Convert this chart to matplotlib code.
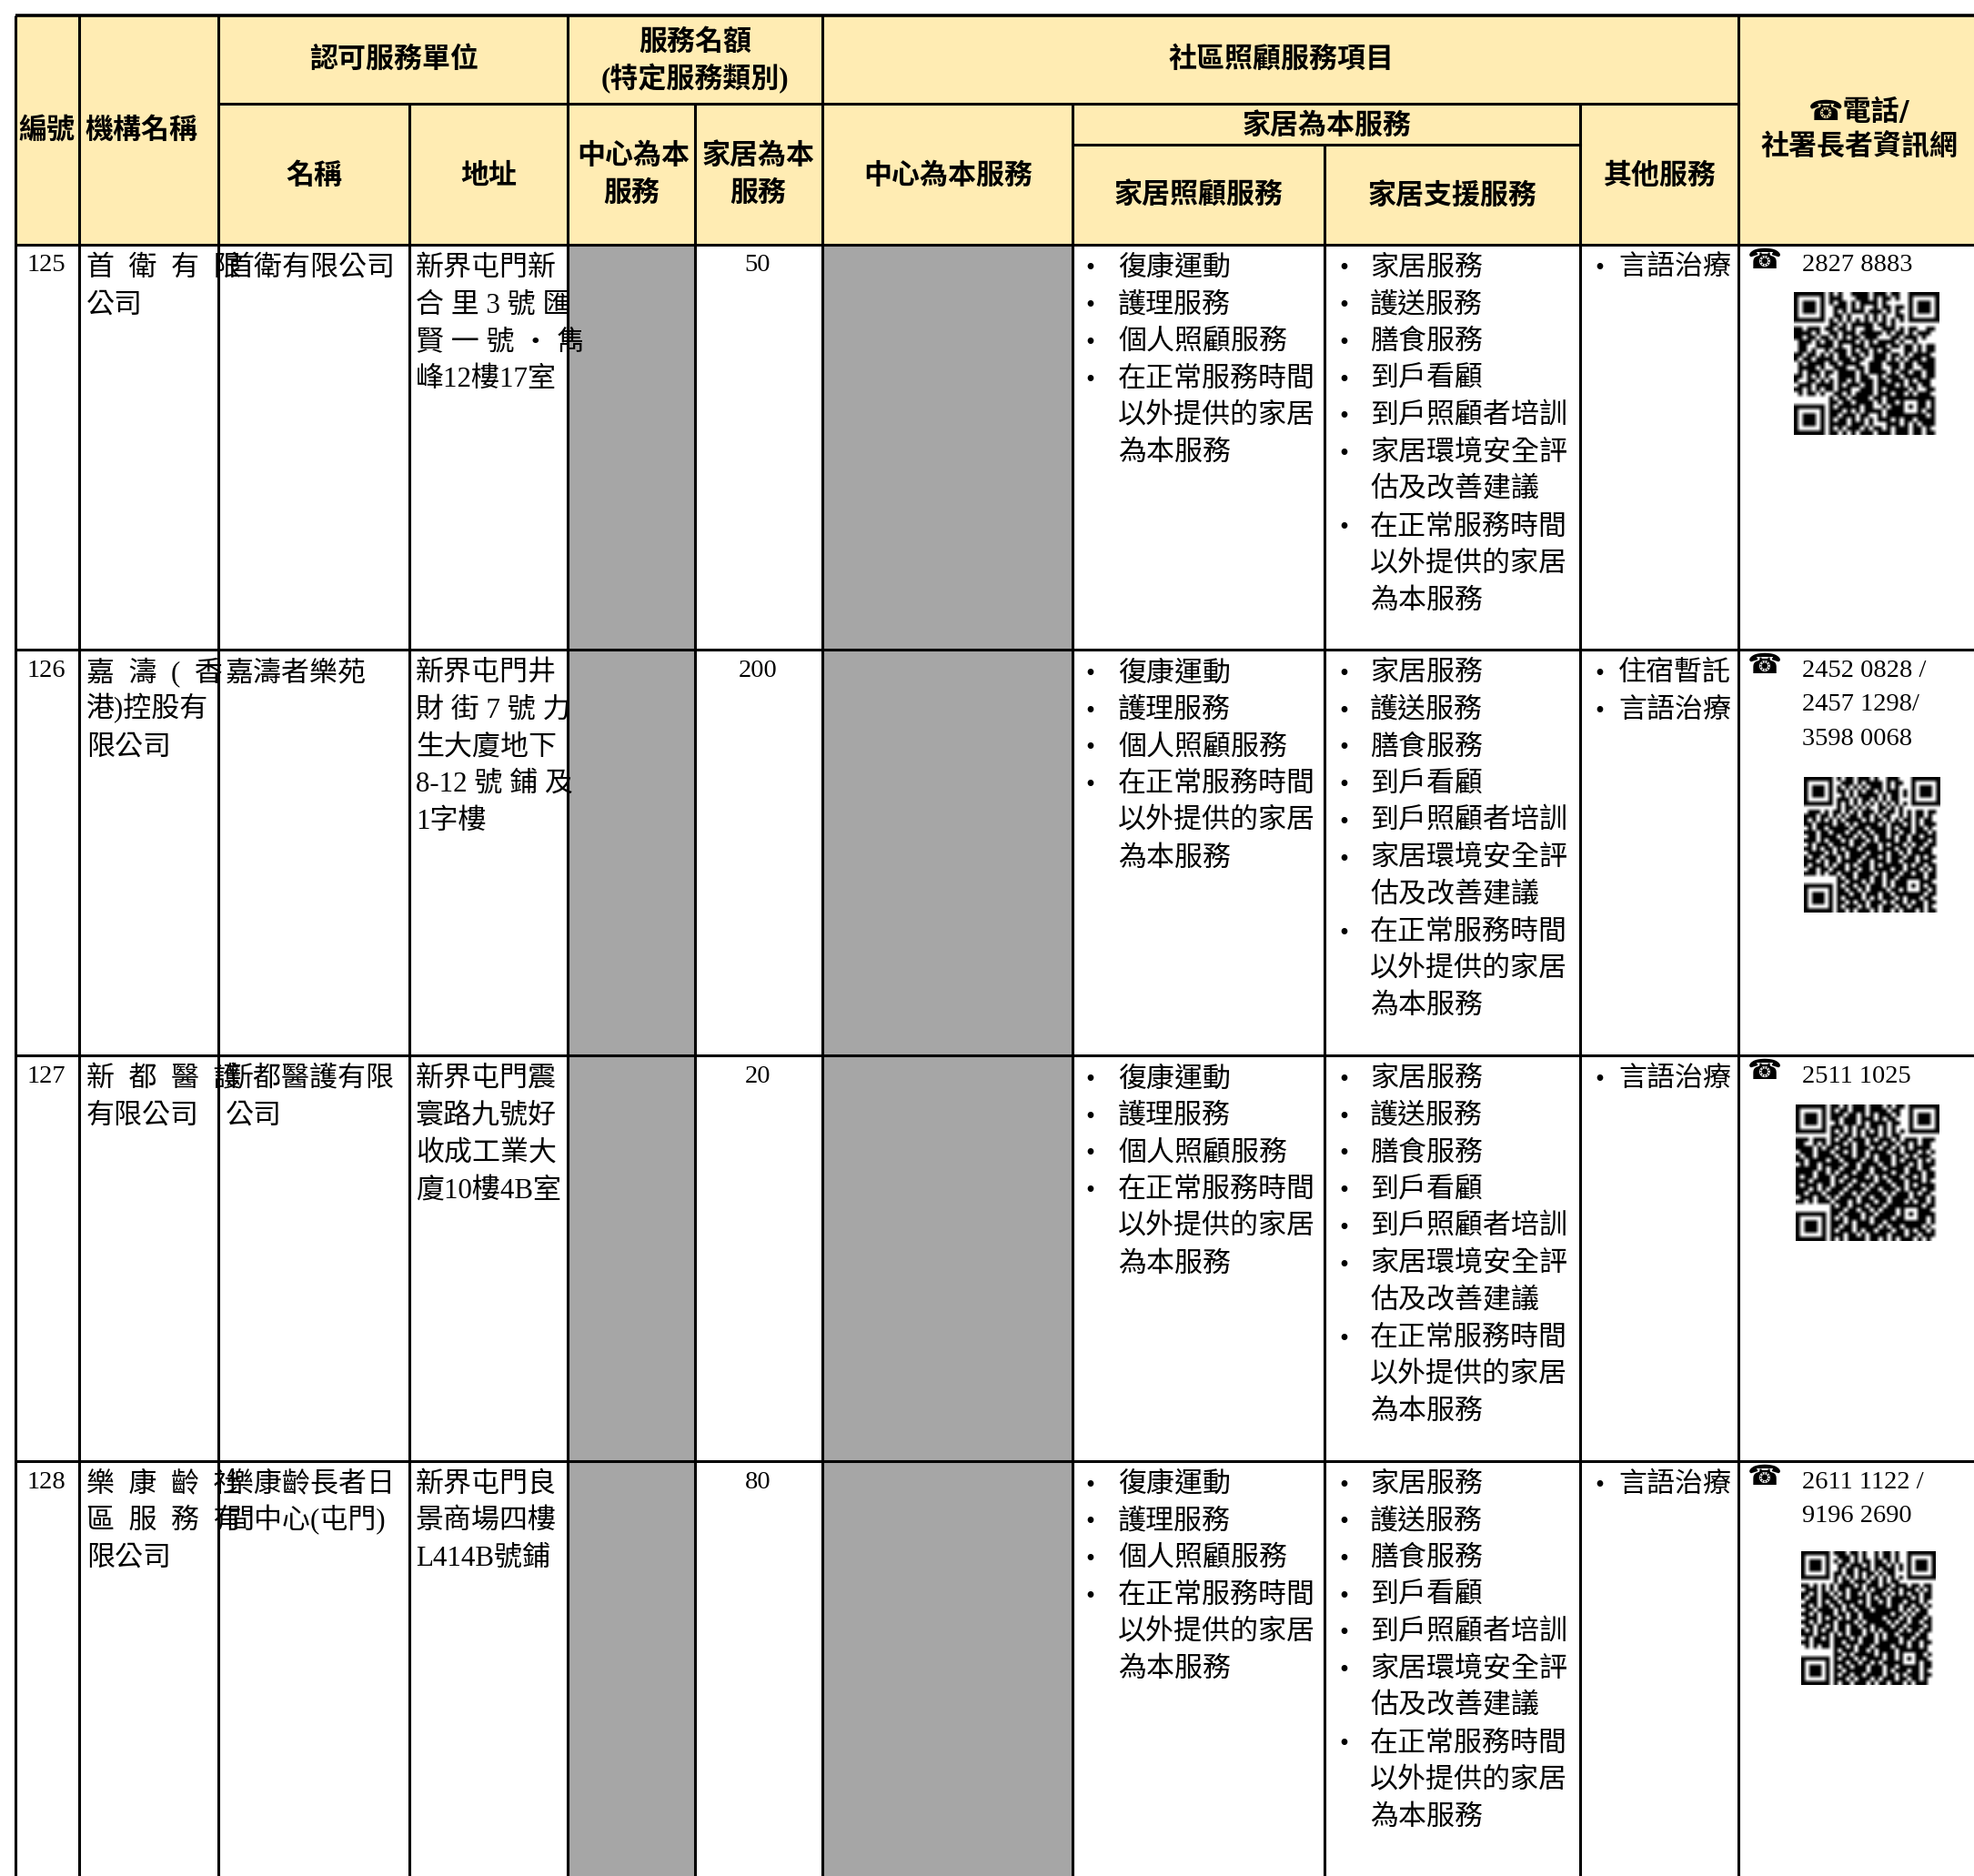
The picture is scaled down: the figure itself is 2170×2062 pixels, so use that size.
import numpy as np
import matplotlib
matplotlib.use('Agg')
import matplotlib.pyplot as plt
from matplotlib.patches import Rectangle

plt.rcParams['font.family'] = ['Liberation Serif', 'Noto Sans CJK TC', 'DejaVu Sans']

# table content
row_ids = ['125', '126', '127', '128']
org_names = [['首  衛  有  限', '公司'],
             ['嘉  濤  (  香', '港)控股有', '限公司'],
             ['新  都  醫  護', '有限公司'],
             ['樂  康  齡  社', '區  服  務  有', '限公司']]
unit_names = [['首衛有限公司'],
              ['嘉濤者樂苑'],
              ['新都醫護有限', '公司'],
              ['樂康齡長者日', '間中心(屯門)']]
addresses = [['新界屯門新', '合 里 3 號 匯', '賢 一 號 ・ 雋', '峰12樓17室'],
             ['新界屯門井', '財 街 7 號 力', '生大廈地下', '8-12 號 鋪 及', '1字樓'],
             ['新界屯門震', '寰路九號好', '收成工業大', '廈10樓4B室'],
             ['新界屯門良', '景商場四樓', 'L414B號鋪']]
home_slots = ['50', '200', '20', '80']
care_items = ['復康運動', '護理服務', '個人照顧服務', '在正常服務時間', None, None]
care_cont = {3: ['以外提供的家居', '為本服務']}
support_items = [('家居服務', []), ('護送服務', []), ('膳食服務', []), ('到戶看顧', []),
                 ('到戶照顧者培訓', []), ('家居環境安全評', ['估及改善建議']),
                 ('在正常服務時間', ['以外提供的家居', '為本服務'])]
other_items = [['言語治療'], ['住宿暫託', '言語治療'], ['言語治療'], ['言語治療']]
phones = [['2827 8883'],
          ['2452 0828 /', '2457 1298/', '3598 0068'],
          ['2511 1025'],
          ['2611 1122 /', '9196 2690']]

# QR modules (finder and alignment squares stamped later)
qr_125 = """
........#.#..####.###.##.........
........###...###.#.##.#.........
........#.##.#.####.#............
.........###.#.#..#.##.##........
.........#.#.###.###.#.#.........
.........##.#...#.#.#..###.......
........#.#.#.#.#.#.#.#.#........
........##.#.#####.##.#..........
##.###.##.##.#..##..###.#.##..##.
####.#..##.###.#####.#.##.#.###..
##.##.##.#.#.##.###...##.###.#...
.###.#.##.####.#.#.####.#..#.....
.##..####.#..###.####.##.##.#.##.
.##.#..#.###.#.##.#.##...##.#.##.
##.##.#.#.##.##.#.###.##.#.####..
#.##.####.###.##..###.#.#.###.##.
.#.####.##.####..###.###.##.####.
.####.#..###..##.###..##.##..###.
.#.###.##.####.#.####.#.##.##.##.
##.#.#.#..####.##..#.###.####.##.
#..##.#.#.##.#.###.##.###.#.###..
.###.####.#.###.##.####.#.##.##..
##.#.#.##.###..###.#.#####.#..##.
.#.##.#..##.#.####.###.##.#.###..
........#.##.####.##.####.#.####.
........##.##.####.#.##.#..#.#.#.
........#.#####.##..#.###.####.#.
........###.#.#.####.###.#.##.##.
........##.###.##..#.####.#.##.#.
........#.##.#.#.#.###.#.##.####.
........####.###.#...###.#.#.###.
........#.#.###.#.##.#.###.##.#..
........##.#.#.###.###.###.##.##.
"""
qr_126 = """
........#.##.###.#..###..........
.........###.#.####.#.##.........
........#.#.#.#.###.#.#..........
........##.#.#.##.#.###.#........
.........#.#.#####.#.##.#........
........###.#.##.#.#.##..........
........#.#.#.#.#.#.#.#.#........
........#.##.#.#..##.#.#.........
.###.#.##.#.#.###.#.##.#.#.##.##.
###.##.#.#.##.##.#.##..#.#.##.#..
#.#.#.#.#.####.#.##.#.#.##.#.##..
##.####.##.#.#####.#.###.#.#.###.
.#.##.#####.###.####.#.###.##.#..
###.##.###.##.##.###.##.##.###.#.
.##.####.###.#.##.##.#.##.##.###.
###.#.###.#.###.#.####.##.####.#.
.#.###.####.##.###.#.###.#.##.##.
##.#.##.#.###.####.###.##.##.##..
.####.#.##.####.####.##.#.#####..
#.##.###.#.###.###.#.###.##.#.##.
###.#.##.####.##.###.##.###.###..
#.###.#.##.#.###.#.#####.#.##.##.
.##.##.###.##.##.####.##.###.#.#.
###.#.##.###.####.#.###.##.##.##.
........#.##.###.##.##.####.#.##.
........##.###.#.##.#.##..#.###..
........#.##.##.###.#.###.#.#.##.
........##.##.#.####.##...#.##.#.
........###.##.###.##.###.###.##.
........#.####.#.#.###.#.###.##..
........##.#.##.###.#.##.#.##.##.
........#.###.#.##.###.##.###.#..
........##.#.###.#.##.#.###.#.##.
"""
qr_127 = """
........##.#.###.###.#.##........
........#.##.###.####.##.........
........###.##.#.#.###.#.........
........##.###.###.#.##..........
.........#.###.#.####.##.........
........###.#.##.##.#.#..........
........#.#.#.#.#.#.#.#.#........
........##.##.#.###.#.##.........
###.###.#.##.###.#.###.#.###.###.
##..#.#.###.#.##.###.##.##.#.##..
####.#.##.###.###.#.##.#.#.####..
.###.###.##.#.##.####.##.###.#.#.
#.##.####.###.##.#.###.##.#.###..
##.####.##.####.##.###.#.###.#.#.
.#.##.#####.##.####.##.###.#.###.
#####.#.##.###.##.##.####.##.##..
####.##.#.###.###.####.##.###.##.
#.##.###.##.####.#.#.###.##.#.##.
###.####.#.##.####.##.###.###.#..
#.###.##.###.##.#.####.##.#.####.
###.#.#.###.####.##.###.#.###.##.
##.###.###.##.#.####.#.###.#.##..
.###.##.#.####.##.###.####.###.#.
##.#.###.###.#.###.##.###.#.##.#.
........#.##.###.###.########.##.
........###.##.##.#.###.##.#.##..
........##.####.##.####.#.#.####.
........#.#.###.#.####.##.#.##.#.
........###.#.###.##.####.####.#.
........##.##.#####.#.##.####.#..
........#.###.#.##.###.##.#.##.#.
........###.##.#.####.###.##.###.
........#.#.####.##.#.#.###.#.#..
"""
qr_128 = """
........###.##.#..#.##.#.........
.........###.#.#..#.##.#.........
........#.##.#.##.##.#.#.........
.........##.###.#.###.#.#........
.........#.##.###.#.###.#........
........##.##.#.##.#.##..........
........#.#.#.#.#.#.#.#.#........
........#.##.###.##.#.##.........
##.#.#.#.####.#.###.##.###.##.##.
.###.#.#.##.###.#.###.##.###.#.#.
##.#.##.#.#.##.#.###.#.#.#.##.##.
#.##.###.##.####.#.##.#####.#.##.
.###.#.##.####.#.##.#.###.###.#..
##.#.##.##.#.###.####.##.##.##.#.
.##.####.#.##.###.######.#.#.##..
##.#.###.##.##.#######.##.#.###..
.###.#.##.#.##.#####.###.#.###.#.
##.#.###.####.#.#####.#.##.##.##.
.##.##.#.##.##.##.####.##.####.#.
#.#.#.##.##.###.#.#.####.#.##.##.
###.###.#.#.###.##.#.##.####.##..
.#.##.#.####.#.###.#.###.##.###..
##.####.##.###.###.#####.#.##.##.
.#.#.##.###.#.###.####.###.##.#..
........#.###.##.#.####.####.##..
........##.#.#####.#.##.##.#.#.#.
........#.###.#.####.##.#.#.###..
........###.##.##.#.####.####.##.
........#.##.###.###.##.###.#.##.
........##.#####.###.#.###.##.#..
........#.##.##.####.##.#.###.##.
........###.#.###.#.###.##.##.#..
........#.##.###.#.##.###.#.###..
"""
qr_tables = [qr_125, qr_126, qr_127, qr_128]

# layout, reference pixels
W, H = 2170, 2062
col_x = [16.6, 87, 239.5, 450, 624, 764, 904, 1179, 1456, 1737, 1911]
head_top, head_mid, head_sub, head_bot = 16.6, 113.5, 159, 268.5
row_y = [268.5, 714, 1160, 1605.5, 2062]
qr_boxes = [(1972, 2132, 321, 478), (1983, 2133, 854, 1003), (1974, 2132, 1214, 1364), (1980, 2128, 1705, 1852)]
HEAD_BG = '#FFECB3'
GRAY = '#A6A6A6'
CJK = 22.3
LATIN = 20.5
PITCH = 40.7
LW = 2.2


def qr_matrix(text):
    rows = [r.ljust(33, '.')[:33] for r in text.strip().split('\n')]
    m = np.array([[c == '#' for c in r] for r in rows], dtype=float)
    finder = np.ones((7, 7))
    finder[1:6, 1:6] = 0
    finder[2:5, 2:5] = 1
    for r, c in [(0, 0), (0, 26), (26, 0)]:
        m[r:r + 7, c:c + 7] = finder
    m[7, :8] = m[:8, 7] = 0
    m[7, 25:] = m[:8, 25] = 0
    m[25, :8] = m[25:, 7] = 0
    small = np.ones((5, 5))
    small[1:4, 1:4] = 0
    small[2, 2] = 1
    m[24:29, 24:29] = small
    return 1 - m


fig = plt.figure(figsize=(W / 100, H / 100), dpi=100)
ax = fig.add_axes([0, 0, 1, 1])
ax.set_xlim(0, W)
ax.set_ylim(H, 0)
ax.axis('off')

# fills
ax.add_patch(Rectangle((col_x[0], head_top), W - col_x[0], head_bot - head_top, fc=HEAD_BG, ec='none', zorder=1))
for i in [4, 6]:
    ax.add_patch(Rectangle((col_x[i], head_bot), col_x[i + 1] - col_x[i], H - head_bot, fc=GRAY, ec='none', zorder=1))

# rules
ax.plot([col_x[0], W], [head_top, head_top], color='k', lw=LW + 0.4, zorder=3, solid_capstyle='butt')
for y in row_y[:-1]:
    ax.plot([col_x[0], W], [y, y], color='k', lw=LW, zorder=3, solid_capstyle='butt')
ax.plot([col_x[2], col_x[10]], [head_mid, head_mid], color='k', lw=LW, zorder=3)
ax.plot([col_x[7], col_x[9]], [head_sub, head_sub], color='k', lw=LW, zorder=3)
for i, x in enumerate(col_x):
    top = head_top
    if i in (3, 5):
        top = head_mid
    if i in (7, 9):
        top = head_mid
    if i == 8:
        top = head_sub
    if i == 6:
        top = head_top
    ax.plot([x, x], [top, H], color='k', lw=LW, zorder=3, solid_capstyle='butt')


def head(x, y, s):
    ax.text(x, y, s, ha='center', va='center', fontsize=CJK, fontweight='bold', zorder=4)


head(51, 144, '編號')
head(156, 144, '機構名稱')
head(433, 66, '認可服務單位')
head(764, 47, '服務名額')
head(764, 87, '(特定服務類別)')
head(1408, 66, '社區照顧服務項目')
ax.text(2044, 123, '☎電話/', ha='center', va='center', fontsize=CJK, fontweight='bold', zorder=4,
        family=['DejaVu Sans', 'Noto Sans CJK TC'])
head(2044, 163, '社署長者資訊網')
head(345, 194, '名稱')
head(537, 194, '地址')
head(696, 172, '中心為本')
head(694, 213, '服務')
head(834, 172, '家居為本')
head(833, 213, '服務')
head(1042, 194, '中心為本服務')
head(1459, 139, '家居為本服務')
head(1318, 216, '家居照顧服務')
head(1597, 216, '家居支援服務')
head(1825, 194, '其他服務')


def body(x, y, s, **kw):
    kw.setdefault('fontsize', CJK)
    ax.text(x, y, s, va='baseline', zorder=4, **kw)


def bullets(xb, xt, top, items):
    n = 0
    for first, rest in items:
        body(xb, top + 34 + n * PITCH, '•', ha='center', fontsize=LATIN)
        body(xt, top + 34 + n * PITCH, first)
        n += 1
        for line in rest:
            body(xt, top + 34 + n * PITCH, line)
            n += 1


care_list = [(s, care_cont.get(i, [])) for i, s in enumerate(care_items) if s]

for r, top in enumerate(row_y[:-1]):
    body(51, top + 30, row_ids[r], ha='center', fontsize=LATIN)
    for x, lines in [(95, org_names[r]), (248, unit_names[r]), (457, addresses[r])]:
        for k, line in enumerate(lines):
            body(x, top + 34 + k * PITCH, line)
    body(833, top + 30, home_slots[r], ha='center', fontsize=LATIN)
    bullets(1198, 1229, top, care_list)
    bullets(1477, 1506, top, support_items)
    bullets(1758, 1779, top, [(s, []) for s in other_items[r]])
    ax.text(1940, top + 18, '☎', ha='center', va='center', fontsize=22, family='DejaVu Sans', zorder=4)
    for k, line in enumerate(phones[r]):
        body(1981, top + 30 + k * 37.4, line, fontsize=LATIN)
    x0, x1, y0, y1 = qr_boxes[r]
    ax.imshow(qr_matrix(qr_tables[r]), cmap='gray', vmin=0, vmax=1, extent=(x0, x1, y1, y0),
              interpolation='bilinear', zorder=2, aspect='auto')

ax.set_xlim(0, W)
ax.set_ylim(H, 0)
fig.savefig('out.png', dpi=100)
